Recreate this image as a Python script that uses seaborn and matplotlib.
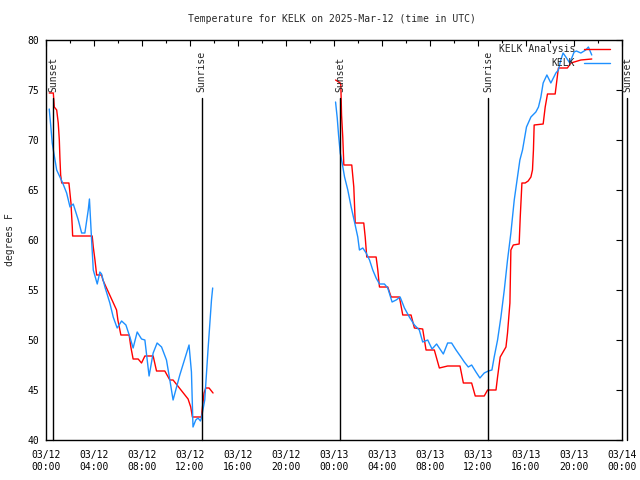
import matplotlib
matplotlib.use("Agg")
import matplotlib.pyplot as plt
from matplotlib.lines import Line2D
import seaborn as sns
import pandas as pd

# ---- data (hours since 2025-03-12 00:00 UTC, degrees F) ----
obs1_h = [0.27, 0.39, 0.52, 0.61, 0.75, 0.89, 1.16, 1.39, 1.72, 2.00, 2.27, 2.69, 2.97,
          3.24, 3.52, 3.62, 3.80, 3.94, 4.27, 4.49, 4.63, 4.91, 5.32, 5.60, 5.93, 6.30,
          6.66, 6.99, 7.26, 7.60, 7.96, 8.24, 8.59, 8.93, 9.26, 9.63, 10.04, 10.32, 10.59,
          11.15, 11.92, 12.12, 12.25, 12.48, 12.67, 12.87, 12.95, 13.23, 13.50, 13.79, 13.89]
obs1_t = [73.1, 71.5, 69.7, 69.0, 68.0, 67.0, 66.3, 65.7, 64.7, 63.3, 63.6, 62.0, 60.7,
          60.7, 63.0, 64.1, 60.0, 57.0, 55.6, 56.8, 56.6, 55.3, 53.7, 52.3, 51.2, 51.9,
          51.5, 50.3, 49.2, 50.8, 50.1, 50.0, 46.4, 48.7, 49.7, 49.3, 48.0, 46.0, 44.0,
          46.5, 49.5, 46.8, 41.3, 42.0, 42.2, 41.9, 42.2, 44.0, 49.0, 54.0, 55.2]

obs2_h = [24.13, 24.27, 24.38, 24.52, 24.68, 24.88, 25.15, 25.43, 25.71, 25.98, 26.12,
          26.40, 26.68, 26.96, 27.23, 27.51, 27.79, 28.20, 28.48, 28.84, 29.18, 29.51,
          29.87, 30.28, 30.70, 31.11, 31.39, 31.81, 32.17, 32.55, 33.11, 33.47, 33.80,
          34.17, 34.58, 34.86, 35.19, 35.47, 35.83, 36.16, 36.52, 36.86, 37.16, 37.35,
          37.63, 37.91, 38.19, 38.46, 38.74, 39.02, 39.29, 39.49, 39.71, 40.04, 40.41,
          40.82, 41.04, 41.24, 41.43, 41.74, 42.07, 42.49, 42.70, 42.90, 43.09, 43.32,
          43.65, 44.01, 44.20, 44.57, 44.98, 45.20, 45.48]
obs2_t = [73.8, 72.2, 70.5, 68.7, 67.7, 66.3, 65.0, 63.3, 61.8, 60.3, 59.0,
          59.2, 58.7, 58.0, 57.0, 56.2, 55.6, 55.6, 55.2, 53.8, 54.0, 54.3,
          53.2, 52.3, 51.5, 51.0, 49.8, 50.0, 49.1, 49.6, 48.6, 49.7, 49.7,
          49.0, 48.3, 47.8, 47.3, 47.5, 46.8, 46.2, 46.7, 46.9, 47.0, 48.3,
          50.0, 52.3, 55.0, 58.0, 60.7, 64.0, 66.3, 68.0, 69.0, 71.3, 72.3,
          72.8, 73.3, 74.3, 75.7, 76.5, 75.7, 76.7, 77.0, 78.0, 78.7, 78.3,
          77.7, 78.8, 78.9, 78.7, 79.0, 79.3, 78.5]

ana1_h = [0.27, 0.61, 0.69, 0.89, 1.02, 1.11, 1.16, 1.22, 1.31, 1.91, 2.08, 2.19, 2.22,
          3.85, 3.94, 4.08, 4.22, 4.63, 4.74, 5.88, 5.99, 6.24, 6.93, 7.07, 7.26, 7.68,
          7.96, 8.24, 8.93, 9.21, 9.90, 10.32, 10.59, 11.84, 12.06, 12.20, 12.95, 13.03,
          13.17, 13.31, 13.59, 13.92]
ana1_t = [74.7, 74.7, 73.3, 73.0, 71.7, 70.0, 68.2, 66.5, 65.7, 65.7, 63.7, 61.3, 60.4,
          60.4, 59.3, 58.0, 56.5, 56.5, 56.0, 53.0, 52.0, 50.5, 50.5, 49.3, 48.1, 48.1,
          47.7, 48.4, 48.4, 46.9, 46.9, 46.0, 46.0, 44.1, 43.3, 42.3, 42.3, 43.2,
          44.7, 45.2, 45.2, 44.7]

ana2_h = [24.13, 24.52, 24.57, 24.63, 24.73, 24.82, 25.48, 25.65, 25.77, 26.48, 26.60,
          26.73, 27.51, 27.65, 27.73, 27.79, 28.48, 28.76, 29.45, 29.73, 30.42, 30.70,
          31.39, 31.67, 32.36, 32.78, 33.47, 34.50, 34.78, 35.47, 35.77, 36.52, 36.80,
          37.50, 37.63, 37.85, 38.33, 38.46, 38.66, 38.74, 38.94, 39.43, 39.52, 39.66,
          39.93, 40.18, 40.41, 40.54, 40.62, 40.68, 41.43, 41.60, 41.79, 42.43, 42.70,
          43.45, 43.74, 44.57, 45.48]
ana2_t = [76.0, 75.7, 75.5, 72.5, 70.3, 67.5, 67.5, 65.3, 61.7, 61.7, 60.3,
          58.3, 58.3, 57.0, 56.0, 55.3, 55.3, 54.3, 54.3, 52.5, 52.5, 51.2,
          51.1, 49.0, 49.0, 47.2, 47.4, 47.4, 45.7, 45.7, 44.4, 44.4, 45.0,
          45.0, 46.3, 48.3, 49.3, 50.7, 53.7, 59.0, 59.5, 59.6, 62.3, 65.7,
          65.7, 65.9, 66.3, 67.0, 69.0, 71.5, 71.6, 73.3, 74.6, 74.6, 77.2,
          77.2, 77.7, 78.0, 78.1]

sun_events = ["Sunset", "Sunrise", "Sunset", "Sunrise", "Sunset"]
sun_hours = [0.58, 12.98, 24.54, 36.86, 48.42]

tick_hours = [0, 4, 8, 12, 16, 20, 24, 28, 32, 36, 40, 44, 48]
tick_labels = ["03/12\n00:00", "03/12\n04:00", "03/12\n08:00", "03/12\n12:00",
               "03/12\n16:00", "03/12\n20:00", "03/13\n00:00", "03/13\n04:00",
               "03/13\n08:00", "03/13\n12:00", "03/13\n16:00", "03/13\n20:00",
               "03/14\n00:00"]

title = "Temperature for KELK on 2025-Mar-12 (time in UTC)"
ylabel = "degrees F"
series_names = ["KELK Analysis", "KELK"]
colors = {"KELK Analysis": "#ff0000", "KELK": "#1e90ff"}

# ---- build long table ----
frames = []
for name, seg, hh, tt in [("KELK Analysis", "a1", ana1_h, ana1_t),
                          ("KELK Analysis", "a2", ana2_h, ana2_t),
                          ("KELK", "o1", obs1_h, obs1_t),
                          ("KELK", "o2", obs2_h, obs2_t)]:
    frames.append(pd.DataFrame({"hour": hh, "temp": tt, "series": name, "seg": seg}))
df = pd.concat(frames, ignore_index=True)

sns.set_style("white")
plt.rcParams["font.family"] = ["DejaVu Sans Mono"]
FS = 7

fig = plt.figure(figsize=(6.4, 4.8), dpi=100)
ax = fig.add_axes([46 / 640, 40 / 480, 576 / 640, 400 / 480])

for name in series_names:
    sub = df[df["series"] == name]
    sns.lineplot(data=sub, x="hour", y="temp", units="seg", estimator=None, sort=False,
                 color=colors[name], linewidth=1.0, ax=ax, legend=False)

ax.set_xlim(0, 48)
ax.set_ylim(40, 80)

for lab, h in zip(sun_events, sun_hours):
    ax.plot([h, h], [40, 74.2], color="black", lw=1.0, clip_on=False)
    ax.text(h, 74.8, lab, rotation=90, ha="center", va="bottom", fontsize=FS,
            clip_on=False)

ax.set_xticks(tick_hours)
ax.set_xticklabels(tick_labels, fontsize=FS, linespacing=1.3)
ax.set_xticks(range(0, 49, 2), minor=True)
ax.set_yticks(range(40, 81, 5))
ax.set_yticklabels([str(v) for v in range(40, 81, 5)], fontsize=FS)
ax.tick_params(which="both", direction="in", top=True, right=True, colors="black")
ax.tick_params(which="major", length=4, width=0.8)
ax.tick_params(which="minor", length=2.5, width=0.8)
ax.tick_params(axis="x", pad=7)
ax.tick_params(axis="y", pad=5)
for s in ax.spines.values():
    s.set_color("black")
    s.set_linewidth(1.0)

ax.set_xlabel("")
ax.set_ylabel(ylabel, fontsize=FS, labelpad=9)
fig.text(332 / 640, 1 - 19 / 480, title, ha="center", va="center", fontsize=FS)

handles = [Line2D([], [], color=colors[n], lw=1.0) for n in series_names]
ax.legend(handles, series_names, loc="upper right", bbox_to_anchor=(0.979, 0.99),
          frameon=False, markerfirst=False, fontsize=FS, handlelength=2.7,
          handletextpad=0.9, labelspacing=0.45, borderaxespad=0.0, borderpad=0.0)

fig.savefig("out.png", dpi=100)
